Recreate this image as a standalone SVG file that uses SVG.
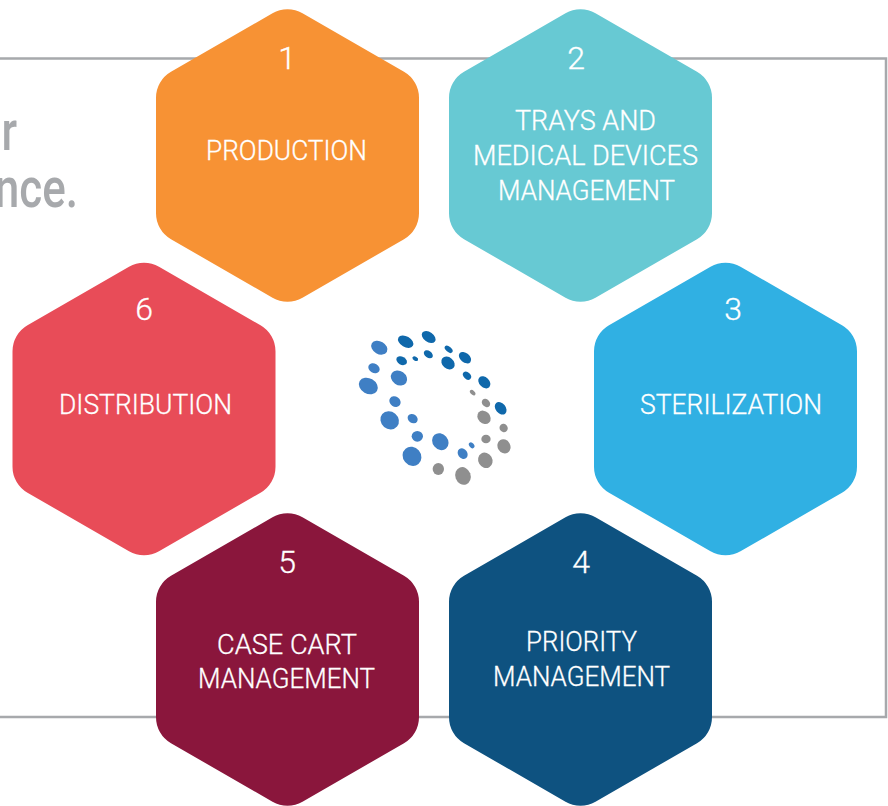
<svg xmlns="http://www.w3.org/2000/svg" width="888" height="806" viewBox="0 0 888 806">
<style>
text{font-family:Roboto,"Liberation Sans",sans-serif;fill:#fff}
.l{font-size:27px;font-weight:300;stroke:#fff;stroke-width:.3px}
.n{font-size:32px;font-weight:300;text-anchor:middle;stroke:#fff;stroke-width:.3px}
.g{fill:#a7a9ac;font-size:55px;font-weight:500;text-anchor:end}
.a{fill:#3f7fc4}.b{fill:#0f68ab}.c{fill:#8f8f8f}
</style>
<defs>
<path id="hex" d="M-15 -142.3A30 30 0 0 1 15 -142.3L116.5 -83.7A30 30 0 0 1 131.5 -57.7V57.7A30 30 0 0 1 116.5 83.7L15 142.3A30 30 0 0 1 -15 142.3L-116.5 83.7A30 30 0 0 1 -131.5 57.7V-57.7A30 30 0 0 1 -116.5 -83.7Z"/>
</defs>
<rect width="888" height="806" fill="#fff"/>
<path id="frame" d="M0 58.5H886V717H0" fill="none" stroke="#a7a9ac" stroke-width="2.5"/>
<g id="intro"><text class="g" transform="translate(17 150) scale(.8 1)">r</text><text class="g" transform="translate(78 207) scale(.8 1)">nce.</text></g>
<g id="connectors"></g>
<g id="node1"><use href="#hex" x="287.5" y="155.5" fill="#f79234"/><text class="n" x="287" y="69">1</text><text class="l" x="206" y="160" textLength="161" lengthAdjust="spacingAndGlyphs">PRODUCTION</text></g>
<g id="node2"><use href="#hex" x="580.5" y="155.5" fill="#67c9d3"/><text class="n" x="576" y="69">2</text><text class="l" x="515" y="130" textLength="141" lengthAdjust="spacingAndGlyphs">TRAYS AND</text><text class="l" x="473" y="165" textLength="225" lengthAdjust="spacingAndGlyphs">MEDICAL DEVICES</text><text class="l" x="498" y="200" textLength="177" lengthAdjust="spacingAndGlyphs">MANAGEMENT</text></g>
<g id="node3"><use href="#hex" x="725.5" y="409" fill="#30b0e3"/><text class="n" x="733" y="320">3</text><text class="l" x="640" y="414" textLength="182" lengthAdjust="spacingAndGlyphs">STERILIZATION</text></g>
<g id="node4"><use href="#hex" x="580.5" y="659.5" fill="#0e5280"/><text class="n" x="581" y="573">4</text><text class="l" x="526" y="651" textLength="111" lengthAdjust="spacingAndGlyphs">PRIORITY</text><text class="l" x="493" y="686" textLength="177" lengthAdjust="spacingAndGlyphs">MANAGEMENT</text></g>
<g id="node5"><use href="#hex" x="287.5" y="659.5" fill="#8a163c"/><text class="n" x="287" y="573">5</text><text class="l" x="217" y="654" textLength="140" lengthAdjust="spacingAndGlyphs">CASE CART</text><text class="l" x="198" y="688" textLength="177" lengthAdjust="spacingAndGlyphs">MANAGEMENT</text></g>
<g id="node6"><use href="#hex" x="144" y="409" fill="#e84c58"/><text class="n" x="144" y="320">6</text><text class="l" x="59" y="414" textLength="173" lengthAdjust="spacingAndGlyphs">DISTRIBUTION</text></g>
<g id="logo" transform="translate(340 320) scale(.3333)">
<g class="a">
<ellipse cx="118" cy="83" rx="26" ry="19" transform="rotate(30 118 83)"/>
<ellipse cx="102" cy="145" rx="18" ry="14" transform="rotate(30 102 145)"/>
<ellipse cx="85" cy="198" rx="30" ry="23" transform="rotate(30 85 198)"/>
<ellipse cx="177" cy="174" rx="26" ry="21" transform="rotate(35 177 174)"/>
<ellipse cx="165" cy="245" rx="18" ry="15" transform="rotate(35 165 245)"/>
<ellipse cx="149" cy="301" rx="29" ry="26" transform="rotate(40 149 301)"/>
<ellipse cx="218" cy="296" rx="16" ry="13" transform="rotate(35 218 296)"/>
<ellipse cx="232" cy="349" rx="17" ry="16"/>
<ellipse cx="301" cy="365" rx="27" ry="23" transform="rotate(50 301 365)"/>
<ellipse cx="216" cy="409" rx="30" ry="27" transform="rotate(50 216 409)"/>
<ellipse cx="368" cy="401" rx="17" ry="14" transform="rotate(55 368 401)"/>
<ellipse cx="395" cy="376" rx="10" ry="7" transform="rotate(50 395 376)"/>
</g>
<g class="b">
<ellipse cx="197" cy="65" rx="25" ry="16" transform="rotate(30 197 65)"/>
<ellipse cx="266" cy="51" rx="23" ry="15" transform="rotate(35 266 51)"/>
<ellipse cx="185" cy="122" rx="17" ry="12" transform="rotate(30 185 122)"/>
<ellipse cx="226" cy="116" rx="9" ry="6" transform="rotate(30 226 116)"/>
<ellipse cx="265" cy="103" rx="15" ry="10" transform="rotate(35 265 103)"/>
<ellipse cx="326" cy="88" rx="14" ry="8" transform="rotate(40 326 88)"/>
<ellipse cx="375" cy="113" rx="21" ry="14" transform="rotate(40 375 113)"/>
<ellipse cx="324" cy="129" rx="22" ry="17" transform="rotate(40 324 129)"/>
<ellipse cx="381" cy="167" rx="14" ry="10" transform="rotate(45 381 167)"/>
<ellipse cx="433" cy="187" rx="21" ry="15" transform="rotate(45 433 187)"/>
<ellipse cx="482" cy="265" rx="21" ry="15" transform="rotate(50 482 265)"/>
</g>
<g class="c">
<ellipse cx="398" cy="218" rx="10" ry="6" transform="rotate(45 398 218)"/>
<ellipse cx="438" cy="249" rx="14" ry="11" transform="rotate(45 438 249)"/>
<ellipse cx="432" cy="292" rx="22" ry="18" transform="rotate(45 432 292)"/>
<ellipse cx="491" cy="324" rx="13" ry="12" transform="rotate(50 491 324)"/>
<ellipse cx="438" cy="357" rx="14" ry="13"/>
<ellipse cx="492" cy="379" rx="22" ry="19" transform="rotate(60 492 379)"/>
<ellipse cx="436" cy="421" rx="24" ry="21" transform="rotate(60 436 421)"/>
<ellipse cx="295" cy="447" rx="17" ry="18"/>
<ellipse cx="369" cy="468" rx="27" ry="23" transform="rotate(70 369 468)"/>
</g>
</g>
</svg>
